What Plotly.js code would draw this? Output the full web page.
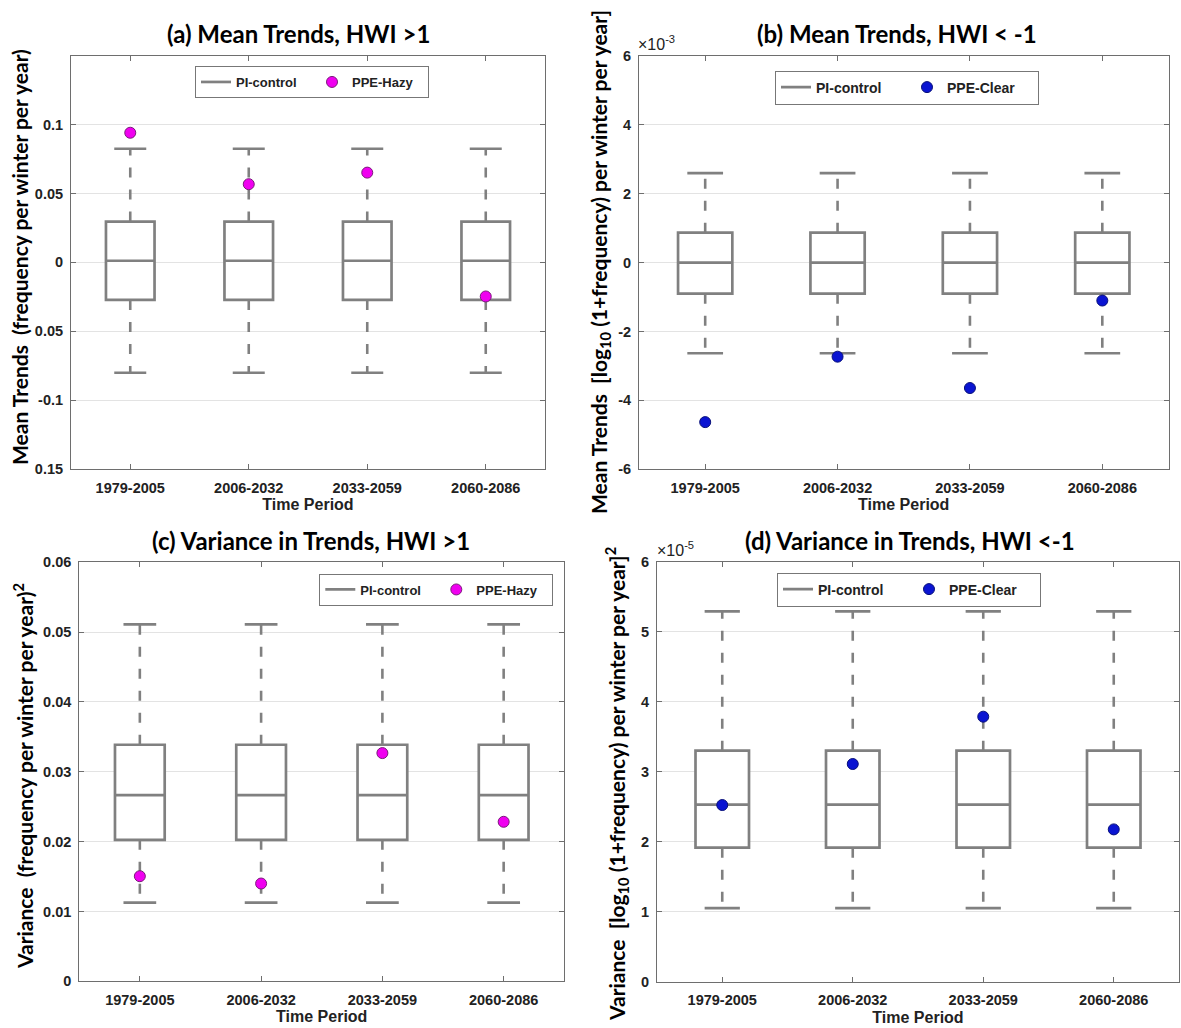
<!DOCTYPE html>
<html>
<head>
<meta charset="utf-8">
<script src="https://cdn.plot.ly/plotly-3.0.1.min.js"></script>
<style>html,body{margin:0;padding:0;background:#fff;}#chart{width:1181px;height:1028px;}</style>
</head>
<body>
<div id="chart"></div>
<script>
// ---------------- DATA ----------------
const categories = ['1979-2005', '2006-2032', '2033-2059', '2060-2086'];

// (a) Mean trends, HWI > 1
const a_lowWhisker = [-0.080, -0.080, -0.080, -0.080];
const a_q1         = [-0.0272, -0.0272, -0.0272, -0.0272];
const a_median     = [0.0012, 0.0012, 0.0012, 0.0012];
const a_q3         = [0.0296, 0.0296, 0.0296, 0.0296];
const a_upWhisker  = [0.0824, 0.0824, 0.0824, 0.0824];
const a_ppeHazy    = [0.0940, 0.0567, 0.0651, -0.0247];
const a_tickVals   = [-0.15, -0.1, -0.05, 0, 0.05, 0.1];
const a_tickText   = ['0.15', '-0.1', '0.05', '0', '0.05', '0.1'];

// (b) Mean trends, HWI < -1
const b_lowWhisker = [-0.00263, -0.00263, -0.00263, -0.00263];
const b_q1         = [-0.00090, -0.00090, -0.00090, -0.00090];
const b_median     = [0.00000, 0.00000, 0.00000, 0.00000];
const b_q3         = [0.00087, 0.00087, 0.00087, 0.00087];
const b_upWhisker  = [0.00260, 0.00260, 0.00260, 0.00260];
const b_ppeClear   = [-0.00463, -0.00273, -0.00364, -0.00110];
const b_tickVals   = [-0.006, -0.004, -0.002, 0, 0.002, 0.004, 0.006];
const b_tickText   = ['-6', '-4', '-2', '0', '2', '4', '6'];

// (c) Variance in trends, HWI > 1
const c_lowWhisker = [0.01128, 0.01128, 0.01128, 0.01128];
const c_q1         = [0.02026, 0.02026, 0.02026, 0.02026];
const c_median     = [0.02666, 0.02666, 0.02666, 0.02666];
const c_q3         = [0.03387, 0.03387, 0.03387, 0.03387];
const c_upWhisker  = [0.05112, 0.05112, 0.05112, 0.05112];
const c_ppeHazy    = [0.01505, 0.01400, 0.03268, 0.02284];
const c_tickVals   = [0, 0.01, 0.02, 0.03, 0.04, 0.05, 0.06];
const c_tickText   = ['0', '0.01', '0.02', '0.03', '0.04', '0.05', '0.06'];

// (d) Variance in trends, HWI < -1
const d_lowWhisker = [1.050e-5, 1.050e-5, 1.050e-5, 1.050e-5];
const d_q1         = [1.915e-5, 1.915e-5, 1.915e-5, 1.915e-5];
const d_median     = [2.530e-5, 2.530e-5, 2.530e-5, 2.530e-5];
const d_q3         = [3.300e-5, 3.300e-5, 3.300e-5, 3.300e-5];
const d_upWhisker  = [5.290e-5, 5.290e-5, 5.290e-5, 5.290e-5];
const d_ppeClear   = [2.524e-5, 3.110e-5, 3.786e-5, 2.176e-5];
const d_tickVals   = [0, 1e-5, 2e-5, 3e-5, 4e-5, 5e-5, 6e-5];
const d_tickText   = ['0', '1', '2', '3', '4', '5', '6'];

// ---------------- STYLE ----------------
const GRAY = 'rgb(128,128,128)';
const AXC = '#6e6e6e';
const TICKF = 'Liberation Sans, Arial, sans-serif';
const TITLEF = 'Lato, Carlito, Calibri, sans-serif';
const BOXW = 0.41, CAPW = 0.135;
const xs = categories.map((c, i) => i);

function panelTraces(ax, legendId, s, ppe, ppeName, ppeColor, ppeEdge) {
  const xa = 'x' + ax, ya = 'y' + ax;
  const traces = [];
  traces.push({
    type: 'box', x: xs, q1: s.q1, median: s.median, q3: s.q3,
    lowerfence: s.q1, upperfence: s.q3, width: BOXW, whiskerwidth: 0,
    boxpoints: false, fillcolor: 'rgba(255,255,255,1)',
    line: {color: GRAY, width: 2.7}, xaxis: xa, yaxis: ya,
    showlegend: false, hoverinfo: 'skip', legend: legendId
  });
  // dashed whiskers
  const wx = [], wy = [];
  xs.forEach((x, i) => {
    wx.push(x, x, null, x, x, null);
    wy.push(s.q3[i], s.up[i], null, s.q1[i], s.low[i], null);
  });
  traces.push({
    type: 'scatter', mode: 'lines', x: wx, y: wy, xaxis: xa, yaxis: ya,
    line: {color: GRAY, width: 2.6, dash: '10px,12px'},
    showlegend: false, hoverinfo: 'skip', legend: legendId
  });
  // whisker caps (legend entry PI-control)
  const cx = [], cy = [];
  xs.forEach((x, i) => {
    cx.push(x - CAPW, x + CAPW, null, x - CAPW, x + CAPW, null);
    cy.push(s.up[i], s.up[i], null, s.low[i], s.low[i], null);
  });
  traces.push({
    type: 'scatter', mode: 'lines', x: cx, y: cy, xaxis: xa, yaxis: ya,
    line: {color: GRAY, width: 2.7}, name: 'PI-control',
    showlegend: true, hoverinfo: 'skip', legend: legendId
  });
  traces.push({
    type: 'scatter', mode: 'markers', x: xs, y: ppe, xaxis: xa, yaxis: ya,
    marker: {color: ppeColor, size: 11, line: {color: ppeEdge, width: 1}},
    name: ppeName, showlegend: true, hoverinfo: 'skip', legend: legendId
  });
  return traces;
}

const data = [].concat(
  panelTraces('', 'legend', {low: a_lowWhisker, q1: a_q1, median: a_median, q3: a_q3, up: a_upWhisker},
              a_ppeHazy, 'PPE-Hazy', '#f000f0', '#7a1a7a'),
  panelTraces('2', 'legend2', {low: b_lowWhisker, q1: b_q1, median: b_median, q3: b_q3, up: b_upWhisker},
              b_ppeClear, 'PPE-Clear', '#0a14d2', '#08107a'),
  panelTraces('3', 'legend3', {low: c_lowWhisker, q1: c_q1, median: c_median, q3: c_q3, up: c_upWhisker},
              c_ppeHazy, 'PPE-Hazy', '#f000f0', '#7a1a7a'),
  panelTraces('4', 'legend4', {low: d_lowWhisker, q1: d_q1, median: d_median, q3: d_q3, up: d_upWhisker},
              d_ppeClear, 'PPE-Clear', '#0a14d2', '#08107a')
);

const W = 1181, H = 1028;
const px = v => v / W;
const py = v => 1 - v / H;

function xAxis(l, r, anchor) {
  return {
    domain: [px(l), px(r)], anchor: anchor, range: [-0.5, 3.5],
    tickmode: 'array', tickvals: xs, ticktext: categories,
    ticks: 'inside', ticklen: 5, tickwidth: 1, tickcolor: AXC,
    showline: true, linecolor: AXC, linewidth: 1, mirror: 'ticks',
    showgrid: false, zeroline: false, ticklabelstandoff: 5,
    tickfont: {family: TICKF, size: 14.5, color: '#222', weight: 'bold'},
    title: {text: 'Time Period', standoff: 4,
            font: {family: TICKF, size: 16, color: '#222', weight: 'bold'}},
    fixedrange: true
  };
}
function yAxis(t, b, anchor, range, vals, text) {
  return {
    domain: [py(b), py(t)], anchor: anchor, range: range,
    tickmode: 'array', tickvals: vals, ticktext: text,
    ticks: 'inside', ticklen: 5, tickwidth: 1, tickcolor: AXC,
    showline: true, linecolor: AXC, linewidth: 1, mirror: 'ticks',
    showgrid: true, gridcolor: '#e3e3e3', gridwidth: 1, zeroline: false,
    ticklabelstandoff: 4,
    tickfont: {family: TICKF, size: 14.5, color: '#222', weight: 'bold'},
    fixedrange: true
  };
}
function legendCfg(x, y, xanchor, fs, ew) {
  return {
    x: x, y: y, xanchor: xanchor, yanchor: 'top', orientation: 'h',
    bgcolor: '#ffffff', bordercolor: '#777', borderwidth: 1,
    traceorder: 'normal', itemclick: false, itemdoubleclick: false,
    entrywidth: ew, entrywidthmode: 'pixels',
    font: {family: TICKF, size: fs, color: '#222', weight: 'bold'}
  };
}

function titleAnn(x, y, text) {
  return {xref: 'paper', yref: 'paper', x: px(x), y: py(y), xanchor: 'center', yanchor: 'middle',
          text: text, showarrow: false,
          font: {family: TITLEF, size: 24, color: '#000', weight: 'bold'}};
}
function yTitleAnn(x, y, text) {
  return {xref: 'paper', yref: 'paper', x: px(x), y: py(y), xanchor: 'center', yanchor: 'middle',
          text: text, showarrow: false, textangle: -90,
          font: {family: TITLEF, size: 21, color: '#000', weight: 'bold'}};
}
function expAnn(x, y, text) {
  return {xref: 'paper', yref: 'paper', x: px(x), y: py(y), xanchor: 'left', yanchor: 'bottom',
          text: text, showarrow: false,
          font: {family: TICKF, size: 16, color: '#222'}};
}

const layout = {
  width: W, height: H, autosize: false,
  margin: {l: 0, r: 0, t: 0, b: 0},
  paper_bgcolor: '#fff', plot_bgcolor: '#fff',
  hovermode: false,
  xaxis:  xAxis(71, 545, 'y'),
  yaxis:  yAxis(55.5, 469.3, 'x', [-0.15, 0.15], a_tickVals, a_tickText),
  xaxis2: xAxis(639, 1168.5, 'y2'),
  yaxis2: yAxis(56, 469.3, 'x2', [-0.006, 0.006], b_tickVals, b_tickText),
  xaxis3: xAxis(79.2, 564.3, 'y3'),
  yaxis3: yAxis(562.3, 981.3, 'x3', [0, 0.06], c_tickVals, c_tickText),
  xaxis4: xAxis(657, 1179, 'y4'),
  yaxis4: yAxis(561.7, 981.7, 'x4', [0, 6e-5], d_tickVals, d_tickText),
  legend:  legendCfg(px(312), py(66), 'center', 13, 71),
  legend2: legendCfg(px(907), py(70.5), 'center', 14, 86),
  legend3: legendCfg(px(553.3), py(573.5), 'right', 13, 71),
  legend4: legendCfg(px(909), py(572.5), 'center', 14, 86),
  annotations: [
    titleAnn(298, 33, '(a) Mean Trends, HWI &gt;1'),
    titleAnn(897, 33, '(b) Mean Trends, HWI &lt; -1'),
    titleAnn(311, 540, '(c) Variance in Trends, HWI &gt;1'),
    titleAnn(910, 540, '(d) Variance in Trends, HWI &lt;-1'),
    yTitleAnn(19, 257, 'Mean Trends  (frequency per winter per year)'),
    yTitleAnn(600, 262, 'Mean Trends  [log<sub>10</sub> (1+frequency) per winter per year]'),
    yTitleAnn(23, 776, 'Variance  (frequency per winter per year)<sup>2</sup>'),
    yTitleAnn(616, 784, 'Variance  [log<sub>10</sub> (1+frequency) per winter per year]<sup>2</sup>'),
    expAnn(636, 55, '×10<sup>-3</sup>'),
    expAnn(655, 561, '×10<sup>-5</sup>')
  ]
};

Plotly.newPlot('chart', data, layout, {displayModeBar: false, staticPlot: true});
</script>
</body>
</html>
